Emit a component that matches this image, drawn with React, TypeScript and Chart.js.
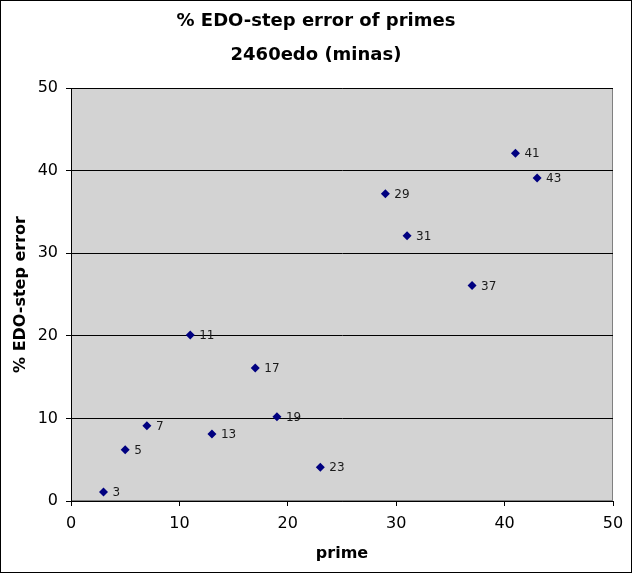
import React, { useEffect, useRef } from "react";
import { Chart, registerables } from "chart.js";

Chart.register(...registerables);

const primes = [3, 5, 7, 11, 13, 17, 19, 23, 29, 31, 37, 41, 43];
const errors = [1.1, 6.2, 9.1, 20.1, 8.1, 16.1, 10.2, 4.1, 37.2, 32.1, 26.1, 42.1, 39.1];
const pointLabels = ["3", "5", "7", "11", "13", "17", "19", "23", "29", "31", "37", "41", "43"];
const titleLines = ["% EDO-step error of primes", "2460edo (minas)"];
const xTitle = "prime";
const yTitle = "% EDO-step error";

const FONT = "DejaVu Sans";

const framePlugin = {
  id: "frame",
  beforeDraw(chart: any) {
    const { ctx, width, height, chartArea } = chart;
    ctx.save();
    ctx.fillStyle = "#ffffff";
    ctx.fillRect(0, 0, width, height);
    ctx.strokeStyle = "#000000";
    ctx.lineWidth = 1;
    ctx.strokeRect(0.5, 0.5, width - 1, height - 1);
    ctx.fillStyle = "#d3d3d3";
    ctx.fillRect(chartArea.left, chartArea.top, chartArea.right - chartArea.left, chartArea.bottom - chartArea.top);
    ctx.strokeStyle = "#808080";
    ctx.strokeRect(chartArea.left + 0.5, chartArea.top + 0.5, chartArea.right - chartArea.left - 1, chartArea.bottom - chartArea.top - 1);
    ctx.restore();
  },
};

const labelPlugin = {
  id: "pointLabels",
  afterDatasetsDraw(chart: any) {
    const { ctx } = chart;
    const meta = chart.getDatasetMeta(0);
    ctx.save();
    ctx.font = `12px "${FONT}"`;
    ctx.fillStyle = "#1a1a1a";
    ctx.textBaseline = "middle";
    ctx.textAlign = "left";
    meta.data.forEach((el: any, i: number) => {
      ctx.fillText(pointLabels[i], el.x + 9, el.y + 1);
    });
    ctx.restore();
  },
};

export default function App() {
  const ref = useRef<HTMLCanvasElement>(null);
  useEffect(() => {
    document.body.style.margin = "0";
    const chart = new Chart(ref.current as HTMLCanvasElement, {
      type: "scatter",
      data: {
        datasets: [
          {
            data: primes.map((p, i) => ({ x: p, y: errors[i] })),
            pointStyle: "rectRot",
            pointRadius: 4.5,
            pointBackgroundColor: "#000080",
            pointBorderColor: "#000080",
            borderWidth: 0,
          },
        ],
      },
      options: {
        animation: false,
        responsive: false,
        layout: { padding: { left: 0, right: 0, top: 0, bottom: 0 } },
        plugins: {
          legend: { display: false },
          tooltip: { enabled: false },
          title: {
            display: true,
            text: titleLines,
            color: "#000000",
            font: { family: FONT, size: 18, weight: "bold", lineHeight: 1.9 },
            padding: { top: 4, bottom: 15.6 },
          },
        },
        scales: {
          x: {
            type: "linear",
            min: 0,
            max: 50,
            ticks: { stepSize: 10, color: "#000000", font: { family: FONT, size: 16 }, padding: 8 },
            grid: { drawOnChartArea: false, drawTicks: true, tickLength: 5, color: "#000000" },
            border: { color: "#000000", width: 1 },
            title: {
              display: true,
              text: xTitle,
              color: "#000000",
              font: { family: FONT, size: 16, weight: "bold" },
              padding: { top: 10, bottom: 10 },
            },
            afterFit(scale: any) {
              scale.height = 72;
              scale.paddingRight = 19;
            },
          },
          y: {
            type: "linear",
            min: 0,
            max: 50,
            ticks: { stepSize: 10, color: "#000000", font: { family: FONT, size: 16 }, padding: 8 },
            grid: { drawOnChartArea: true, drawTicks: true, tickLength: 5, color: "#000000" },
            border: { color: "#000000", width: 1 },
            title: {
              display: true,
              text: yTitle,
              color: "#000000",
              font: { family: FONT, size: 16, weight: "bold" },
              padding: { top: 11, bottom: 8 },
            },
            afterFit(scale: any) {
              scale.width = 71;
            },
          },
        },
      } as any,
      plugins: [framePlugin, labelPlugin],
    });
    return () => chart.destroy();
  }, []);
  return (
    <div style={{ position: "absolute", left: 0, top: 0, width: 632, height: 573 }}>
      <canvas ref={ref} width={632} height={573} />
    </div>
  );
}
